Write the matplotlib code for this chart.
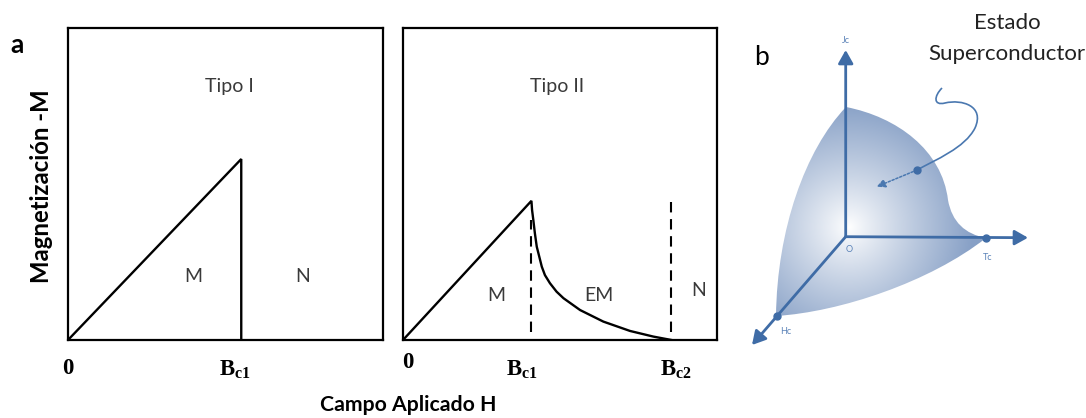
import numpy as np
import matplotlib
matplotlib.use("Agg")
import matplotlib.pyplot as plt
from matplotlib.path import Path
from matplotlib.patches import PathPatch, FancyArrowPatch

plt.rcParams["font.family"] = ["Lato", "DejaVu Sans"]
plt.rcParams["mathtext.fontset"] = "custom"
plt.rcParams["mathtext.bf"] = "Liberation Serif:bold"
plt.rcParams["mathtext.rm"] = "Liberation Serif:bold"

# ---- data: magnetisation curves (arbitrary units) ----
h_type1 = [0.0, 0.55, 0.55]
m_type1 = [0.0, 0.58, 0.0]

hc1_type2 = 0.409
hc2_type2 = 0.855
h_type2 = [0.0, 0.409, 0.411, 0.415, 0.420, 0.426, 0.442, 0.452, 0.468,
           0.489, 0.511, 0.564, 0.596, 0.638, 0.723, 0.797, 0.855]
m_type2 = [0.0, 0.446, 0.417, 0.385, 0.342, 0.299, 0.235, 0.208, 0.182,
           0.155, 0.134, 0.096, 0.080, 0.059, 0.029, 0.011, 0.0]
dash_tops = [0.385, 0.442]
dash_bottom = 0.026

# ---- critical surface sketch (screen units) ----
origin = (845.7, 236.7)
jc_tip = (845.7, 50.0)
tc_tip = (1028.0, 237.7)
hc_tip = (752.0, 345.0)
tc_point = (986.0, 237.7)
hc_point = (776.7, 315.7)
# boundary of the superconducting region as cubic Bezier segments
surface_nodes = [(846, 107),
                 (897, 117), (942, 150), (948, 200),
                 (952, 222), (965, 234), (986, 238),
                 (930, 282), (840, 312), (776, 316),
                 (777, 230), (805, 150), (846, 107)]
squiggle_nodes = [(942, 88),
                  (934, 96), (933, 106), (945, 103),
                  (962, 99), (985, 106), (975, 128),
                  (965, 148), (935, 160), (917, 170)]
pointer_head = (876.7, 186.7)

W, H = 1086, 418
fig = plt.figure(figsize=(W / 100, H / 100), dpi=100)

def box(x0, x1, y0, y1):
    return [x0 / W, 1 - y1 / H, (x1 - x0) / W, (y1 - y0) / H]

def bezier_path(nodes):
    codes = [Path.MOVETO] + [Path.CURVE4] * (len(nodes) - 1)
    return Path(nodes, codes)

lw_box = 1.6
lw_curve = 1.7
reg = dict(fontsize=14, color="#3a3a3a", family=["Lato", "DejaVu Sans"])
tick = dict(ha="center", va="center", fontsize=16.5, clip_on=False)

ax1 = fig.add_axes(box(68, 383, 28, 340))
ax2 = fig.add_axes(box(403, 717, 28, 340))
for ax in (ax1, ax2):
    ax.set_xlim(0, 1)
    ax.set_ylim(0, 1)
    ax.set_xticks([])
    ax.set_yticks([])
    for s in ax.spines.values():
        s.set_linewidth(lw_box)
        s.set_color("black")

# Type I
ax1.plot(h_type1, m_type1, color="black", lw=lw_curve, solid_joinstyle="miter")
ax1.text(0.511, 0.814, "Tipo I", ha="center", va="center", **reg)
ax1.text(0.397, 0.205, "M", ha="center", va="center", **reg)
ax1.text(0.746, 0.205, "N", ha="center", va="center", **reg)
ax1.text(0.0, -0.088, r"$\mathbf{0}$", **tick)
ax1.text(0.529, -0.095, r"$\mathbf{B_{c1}}$", **tick)

# Type II
ax2.plot(h_type2, m_type2, color="black", lw=lw_curve, solid_joinstyle="miter")
for hx, top in zip([hc1_type2, hc2_type2], dash_tops):
    ax2.plot([hx, hx], [dash_bottom, top], color="black", lw=1.5,
             dashes=(5, 3.2))
ax2.text(0.49, 0.814, "Tipo II", ha="center", va="center", **reg)
ax2.text(0.296, 0.144, "M", ha="center", va="center", **reg)
ax2.text(0.624, 0.144, "EM", ha="center", va="center", **reg)
ax2.text(0.94, 0.16, "N", ha="center", va="center", **reg)
ax2.text(0.017, -0.070, r"$\mathbf{0}$", **tick)
ax2.text(0.38, -0.095, r"$\mathbf{B_{c1}}$", **tick)
ax2.text(0.87, -0.095, r"$\mathbf{B_{c2}}$", **tick)

fig.text(42 / W, 1 - 186 / H, "Magnetización -M", rotation=90, ha="center",
         va="center", fontsize=17.2, fontweight="bold", color="black")
fig.text(408 / W, 1 - 405 / H, "Campo Aplicado H", ha="center", va="center",
         fontsize=15.3, fontweight="bold", color="black")
fig.text(17 / W, 1 - 45 / H, "a", ha="center", va="center", fontsize=19,
         fontweight="bold", color="black")

# ---- panel b ----
axb = fig.add_axes([740 / W, 0, (W - 740) / W, 1])
axb.set_xlim(740, W)
axb.set_ylim(H, 0)
axb.axis("off")

gx, gy = np.meshgrid(np.linspace(740, W, 400), np.linspace(0, H, 480))
cx, cy = 849.0, 227.0
r = np.hypot(gx - cx, gy - cy)
t = np.clip(r / 125.0, 0, 1) ** 0.9
edge = np.array([135, 160, 198]) / 255.0
img = np.ones(gx.shape + (3,)) * (1 - t[..., None]) + edge * t[..., None]
im = axb.imshow(img, extent=(740, W, H, 0), origin="upper", zorder=1,
                interpolation="bilinear")
surf = PathPatch(bezier_path(surface_nodes), facecolor="none",
                 edgecolor="none")
axb.add_patch(surf)
im.set_clip_path(surf)

axis_col = "#3f6ca6"
for tip in (jc_tip, tc_tip, hc_tip):
    axb.add_patch(FancyArrowPatch(origin, tip,
                                  arrowstyle="-|>,head_length=8,head_width=4.5",
                                  color=axis_col, lw=2.0, zorder=3,
                                  shrinkA=0, shrinkB=0))
for p in (tc_point, hc_point):
    axb.plot(*p, "o", color=axis_col, ms=5, zorder=4)

# squiggly pointer and dotted arrow
line_col = "#4a78b0"
axb.add_patch(PathPatch(bezier_path(squiggle_nodes), facecolor="none",
                        edgecolor=line_col, lw=1.2, zorder=4))
dot = squiggle_nodes[-1]
axb.plot(*dot, "o", color=axis_col, ms=5, zorder=5)
axb.add_patch(FancyArrowPatch(dot, pointer_head,
                              arrowstyle="-|>,head_length=5,head_width=2.5",
                              color=line_col, lw=1.1, linestyle=(0, (1.5, 1.2)),
                              zorder=4, shrinkA=0, shrinkB=0))

small = dict(fontsize=6.5, color="#5b83b8", ha="center", va="center")
axb.text(846, 40, "Jc", **small)
axb.text(849, 250, "O", **small)
axb.text(988, 257, "Tc", **small)
axb.text(786, 332, "Hc", **small)

axb.text(1007, 23, "Estado", ha="center", va="center", fontsize=16,
         color="#222222")
axb.text(1007, 54, "Superconductor", ha="center", va="center", fontsize=16,
         color="#222222")
axb.text(762, 57, "b", ha="center", va="center", fontsize=19, color="black")

fig.savefig("out.png", dpi=100, facecolor="white")
